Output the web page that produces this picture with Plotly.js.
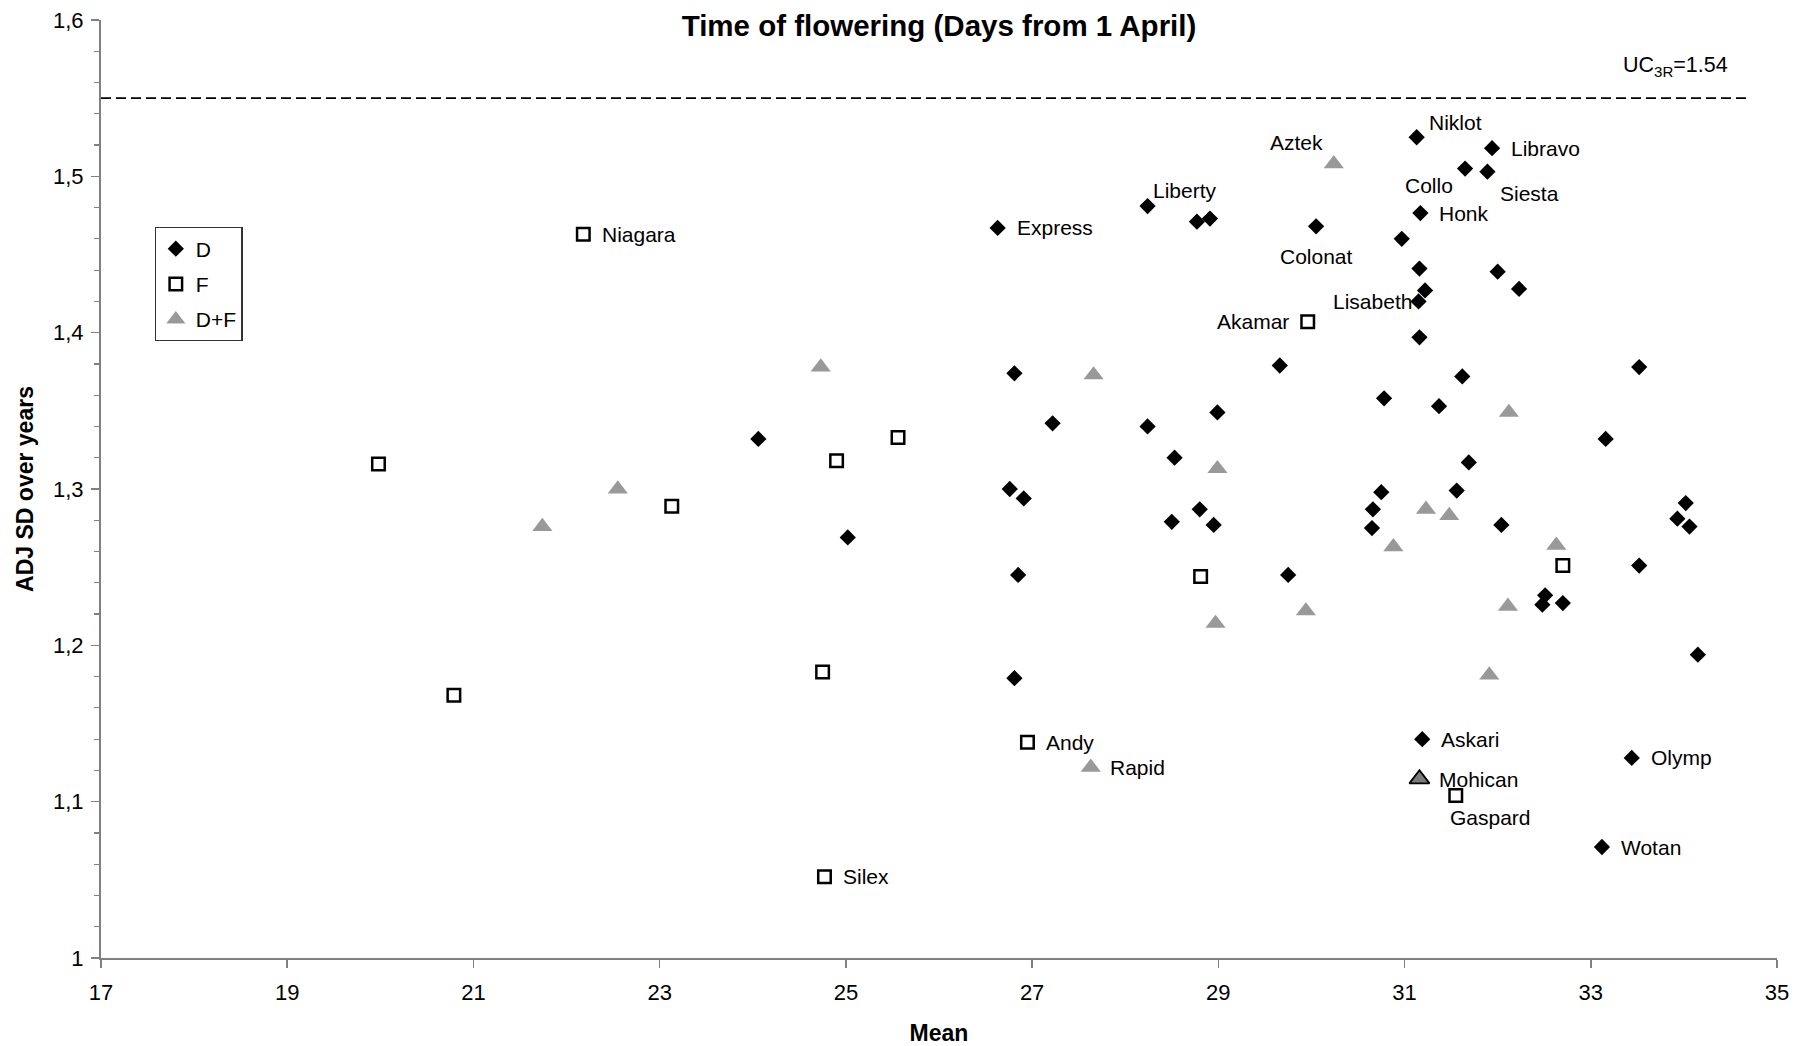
<!DOCTYPE html>
<html>
<head>
<meta charset="utf-8">
<script src="https://cdn.plot.ly/plotly-3.0.1.min.js"></script>
<style>
html,body{margin:0;padding:0;background:#fff;}
#chart{width:1803px;height:1046px;}
</style>
</head>
<body>
<div id="chart"></div>
<script>
// ---------- data ----------
// Series D (black diamonds)
const dX = [26.63, 28.24, 28.77, 28.91, 30.05, 31.13, 31.94, 31.65, 31.89, 31.17,
            30.97, 31.16, 32.00, 32.23, 31.22, 31.15, 31.16, 26.81, 29.66, 31.62,
            33.52, 30.78, 28.99, 31.37, 27.22, 28.24, 24.06, 33.16, 28.53, 31.69,
            26.76, 26.91, 30.75, 31.56, 28.80, 30.66, 28.50, 28.95, 30.65, 32.04,
            34.02, 33.93, 34.06, 25.02, 26.85, 29.75, 33.52, 32.51, 32.48, 32.70,
            34.15, 26.81, 31.19, 33.44, 33.12];
const dY = [1.467, 1.481, 1.471, 1.473, 1.468, 1.525, 1.518, 1.505, 1.503, 1.4765,
            1.460, 1.441, 1.439, 1.428, 1.427, 1.420, 1.397, 1.374, 1.379, 1.372,
            1.378, 1.358, 1.349, 1.353, 1.342, 1.340, 1.332, 1.332, 1.320, 1.317,
            1.300, 1.294, 1.298, 1.299, 1.287, 1.287, 1.279, 1.277, 1.275, 1.277,
            1.291, 1.281, 1.276, 1.269, 1.245, 1.245, 1.251, 1.232, 1.226, 1.227,
            1.194, 1.179, 1.140, 1.128, 1.071];
const dNames = ['Express', 'Liberty', '', '', 'Colonat', 'Niklot', 'Libravo', 'Collo', 'Siesta', 'Honk',
            '', '', '', '', '', 'Lisabeth', '', '', '', '',
            '', '', '', '', '', '', '', '', '', '',
            '', '', '', '', '', '', '', '', '', '',
            '', '', '', '', '', '', '', '', '', '',
            '', '', 'Askari', 'Olymp', 'Wotan'];

// Series F (open squares)
const fX = [22.18, 29.96, 19.98, 25.56, 24.90, 23.13, 28.81, 32.70, 20.79, 24.75, 26.95, 31.55, 24.77];
const fY = [1.463, 1.407, 1.316, 1.333, 1.318, 1.289, 1.244, 1.251, 1.168, 1.183, 1.138, 1.104, 1.052];
const fNames = ['Niagara', 'Akamar', '', '', '', '', '', '', '', '', 'Andy', 'Gaspard', 'Silex'];

// Series D+F (grey triangles)
const dfX = [30.24, 24.73, 27.66, 22.55, 21.74, 28.99, 32.12, 31.23, 31.48, 30.88,
             32.63, 28.97, 29.94, 32.11, 31.91, 27.63, 31.16];
const dfY = [1.508, 1.378, 1.373, 1.300, 1.276, 1.313, 1.349, 1.287, 1.283, 1.263,
             1.264, 1.214, 1.222, 1.225, 1.181, 1.122, 1.1145];
const dfNames = ['Aztek', '', '', '', '', '', '', '', '', '',
                 '', '', '', '', '', 'Rapid', 'Mohican'];

// Series labels
const seriesNames = ['D', 'F', 'D+F'];

// Upper control limit line
const ucLimit = 1.55;
const ucLineStart = 17;
const ucLineEnd = 34.67;
const ucLabel = 'UC<sub>3R</sub>=1.54';

// Axis ticks
const xTickStart = 17, xTickStep = 2, xRange = [17, 35];
const yTickStart = 1, yTickStep = 0.1, yMinorStep = 0.02, yRange = [1, 1.6];

// ---------- styling ----------
const FONT = 'Liberation Sans, Arial, Helvetica, sans-serif';
const AXIS_GREY = '#808080';
const TRI_GREY = '#999999';
const HILITE_GREY = '#7a7a7a';

// label placements (px offsets relative to the data point)
const defaultPlacement = {xanchor: 'left', xshift: 17, yshift: 0};
const labelPlacement = {
  'Liberty':  {xanchor: 'left',   xshift: 3,   yshift: 16},
  'Colonat':  {xanchor: 'center', xshift: 0,   yshift: -30},
  'Niklot':   {xanchor: 'left',   xshift: 10,  yshift: 15},
  'Collo':    {xanchor: 'right',  xshift: -10, yshift: -17},
  'Siesta':   {xanchor: 'left',   xshift: 11,  yshift: -22},
  'Lisabeth': {xanchor: 'right',  xshift: -5,  yshift: 0},
  'Akamar':   {xanchor: 'right',  xshift: -17, yshift: 0},
  'Gaspard':  {xanchor: 'left',   xshift: -8,  yshift: -22},
  'Aztek':    {xanchor: 'right',  xshift: -9,  yshift: 21},
  'Mohican':  {xanchor: 'left',   xshift: 18,  yshift: 0}
};

const traceD = {
  type: 'scatter', mode: 'markers', name: seriesNames[0], legendgroup: 'g1',
  x: dX, y: dY,
  marker: {symbol: 'diamond', size: 12.5, color: '#000000', line: {width: 0}},
  hoverinfo: 'skip'
};
const traceF = {
  type: 'scatter', mode: 'markers', name: seriesNames[1], legendgroup: 'g2',
  x: fX, y: fY,
  marker: {symbol: 'square', size: 12.5, color: '#ffffff', line: {width: 2.5, color: '#000000'}},
  hoverinfo: 'skip'
};
const traceDF = {
  type: 'scatter', mode: 'markers', name: seriesNames[2], legendgroup: 'g3',
  x: dfX, y: dfY,
  marker: {
    symbol: 'triangle-up', size: 17.5,
    color: dfNames.map(n => n === 'Mohican' ? HILITE_GREY : TRI_GREY),
    line: {width: dfNames.map(n => n === 'Mohican' ? 1.8 : 0), color: '#000000'}
  },
  hoverinfo: 'skip'
};

function labelsFor(xs, ys, names) {
  const out = [];
  names.forEach((n, i) => {
    if (!n) return;
    const p = labelPlacement[n] || defaultPlacement;
    out.push({
      x: xs[i], y: ys[i], xref: 'x', yref: 'y', text: n, showarrow: false,
      xanchor: p.xanchor, yanchor: 'middle', xshift: p.xshift, yshift: p.yshift,
      font: {family: FONT, size: 21, color: '#000000'}
    });
  });
  return out;
}

const annotations = [
  ...labelsFor(dX, dY, dNames),
  ...labelsFor(fX, fY, fNames),
  ...labelsFor(dfX, dfY, dfNames),
  {
    x: ucLineEnd, y: ucLimit, xref: 'x', yref: 'y', text: ucLabel, showarrow: false,
    xanchor: 'right', yanchor: 'middle', xshift: -16, yshift: 32,
    font: {family: FONT, size: 21.5, color: '#000000'}
  }
];

const layout = {
  width: 1803, height: 1046,
  margin: {l: 101, r: 26, t: 20, b: 88, pad: 0},
  paper_bgcolor: '#ffffff', plot_bgcolor: '#ffffff',
  font: {family: FONT, size: 22, color: '#000000'},
  separators: ', ',
  showlegend: true,
  title: {
    text: '<b>Time of flowering (Days from 1 April)</b>',
    font: {family: FONT, size: 29.5, color: '#000000'},
    x: 0.5, xref: 'paper', xanchor: 'center',
    y: 1 - 25.5 / 1046, yref: 'container', yanchor: 'middle'
  },
  xaxis: {
    range: xRange, tick0: xTickStart, dtick: xTickStep,
    showline: true, linecolor: AXIS_GREY, linewidth: 2,
    ticks: 'outside', ticklen: 8, tickwidth: 1.5, tickcolor: AXIS_GREY,
    showgrid: false, zeroline: false,
    tickfont: {family: FONT, size: 22, color: '#000000'},
    ticklabelstandoff: 6,
    title: {text: '<b>Mean</b>', font: {family: FONT, size: 23, color: '#000000'}, standoff: 23}
  },
  yaxis: {
    range: yRange, tick0: yTickStart, dtick: yTickStep,
    showline: true, linecolor: AXIS_GREY, linewidth: 2,
    ticks: 'outside', ticklen: 8, tickwidth: 1.5, tickcolor: AXIS_GREY,
    minor: {dtick: yMinorStep, tick0: yTickStart, ticks: 'outside', ticklen: 5, tickwidth: 1.2, tickcolor: AXIS_GREY, showgrid: false},
    showgrid: false, zeroline: false,
    tickfont: {family: FONT, size: 22, color: '#000000'},
    ticklabelstandoff: 3,
    title: {text: '<b>ADJ SD over years</b>', font: {family: FONT, size: 23, color: '#000000'}, standoff: 13}
  },
  legend: {
    x: 0.032, y: 0.779, xanchor: 'left', yanchor: 'top',
    xref: 'paper', yref: 'paper',
    bgcolor: '#ffffff', bordercolor: '#333333', borderwidth: 1.2,
    font: {family: FONT, size: 21, color: '#000000'},
    tracegroupgap: 5, itemwidth: 30
  },
  shapes: [{
    type: 'line', xref: 'x', yref: 'y',
    x0: ucLineStart, x1: ucLineEnd, y0: ucLimit, y1: ucLimit,
    line: {color: '#000000', width: 1.6, dash: '10px,5px'}
  }],
  annotations: annotations
};

Plotly.newPlot('chart', [traceD, traceF, traceDF], layout, {staticPlot: true, displayModeBar: false});
</script>
</body>
</html>
